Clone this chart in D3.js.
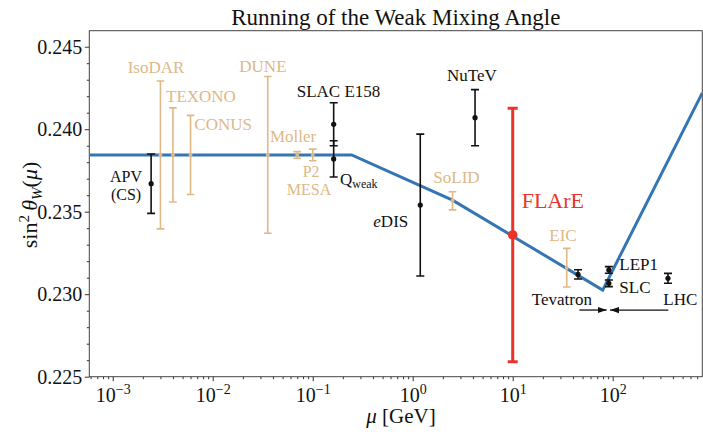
<!DOCTYPE html>
<html><head><meta charset="utf-8">
<script src="https://cdn.jsdelivr.net/npm/d3@7"></script>
<style>
body{margin:0;background:#fff;}
text{font-family:"Liberation Serif","Times New Roman",serif;}
</style></head>
<body><svg id="c" width="703" height="432"></svg>
<script>
// ---------- data ----------
const runMu = [5.83e-4, 0.245, 2.5, 79.4, 787];
const runS2 = [0.23844, 0.23844, 0.2357, 0.23025, 0.2422];

const measNames = ["APV", "SLAC E158", "Qweak", "eDIS", "NuTeV", "Tevatron", "LEP1", "SLC", "LHC"];
const measMu    = [0.00242, 0.162, 0.162, 1.19, 4.2, 45, 91.5, 91.5, 357];
const measVal   = [0.2367, 0.2403, 0.2382, 0.2354, 0.2407, 0.2312, 0.23147, 0.23066, 0.23096];
const measErr   = [0.0018, 0.0013, 0.0011, 0.0043, 0.0017, 0.00028, 0.0002, 0.0002, 0.0003];

const projNames = ["IsoDAR", "TEXONO", "CONUS", "DUNE", "Moller", "P2", "SoLID", "EIC"];
const projMu    = [0.003, 0.004, 0.006, 0.0355, 0.07, 0.1, 2.5, 34.7];
const projVal   = [0.23844, 0.23844, 0.23844, 0.23844, 0.23844, 0.23844, 0.23566, 0.23161];
const projErr   = [0.00448, 0.00285, 0.0024, 0.00475, 0.0002, 0.00035, 0.00055, 0.00117];

const flareMu = [10];
const flareVal = [0.23359];
const flareErr = [0.00768];

const xTickExp = [-3, -2, -1, 0, 1, 2];
const yTicks = [0.225, 0.230, 0.235, 0.240, 0.245];

// label anchors in data coordinates (like plt.text)
const labText = ["IsoDAR","TEXONO","CONUS","DUNE","Moller","P2","MESA","SoLID","EIC",
                 "SLAC E158","eDIS","NuTeV","Tevatron","LEP1","SLC","LHC"];
const labMu   = [0.00141,0.00341,0.00655,0.01845,0.0374,0.0794,0.055,1.607,23.2,
                 0.0692,0.4036,2.203,15.5,116.4,116.4,320.6];
const labVal  = [0.24342,0.24167,0.23995,0.24348,0.23921,0.23710,0.23601,0.23672,0.23324,
                 0.24193,0.23405,0.24292,0.22935,0.23147,0.23009,0.22935];
const labKind = ["p","p","p","p","p","p","p","p","p","m","m","m","m","m","m","m"];

// arrows (Tevatron, LHC)
const arrFrom = [46.4, 359.7];
const arrTo   = [87.1, 94];
const arrVal  = [0.22904, 0.22904];

// ---------- drawing ----------
const FONT = '"Liberation Serif","Times New Roman",serif';
const TAN = "#deb887", BLUE = "#3575b3", RED = "#e9342b", BLK = "#111";
const svg = d3.select("#c");
const L = 89.3, R = 702.3, T = 30.7, B = 376.7;
const x = d3.scaleLog().domain([5.83e-4, 787]).range([L, R]);
const y = d3.scaleLinear().domain([0.225, 0.24597]).range([B, T]);

const defs = svg.append("defs");
defs.append("clipPath").attr("id","clip").append("rect")
  .attr("x",L).attr("y",T).attr("width",R-L).attr("height",B-T);
defs.append("marker").attr("id","ah").attr("viewBox","0 0 10 10").attr("refX",10).attr("refY",5)
  .attr("markerWidth",9).attr("markerHeight",9).attr("markerUnits","userSpaceOnUse").attr("orient","auto")
  .append("path").attr("d","M0,1.5L10,5L0,8.5Z").attr("fill",BLK);

function txt(sel){ return sel.append("text").attr("font-family",FONT).style("font-family",FONT); }

// title
txt(svg).attr("x",(L+R)/2).attr("y",25).attr("text-anchor","middle")
  .attr("font-size",23).attr("fill","#111").text("Running of the Weak Mixing Angle");

// axes
const xMajor = xTickExp.map(e => Math.pow(10,e));
const xMinor = [];
for (let e=-4;e<=2;e++) for (let m=2;m<=9;m++){const v=m*Math.pow(10,e); if(v>=x.domain()[0]&&v<=x.domain()[1]) xMinor.push(v);}
const yMinor = d3.range(0.225,0.2459,0.001).filter(v=>!yTicks.some(t=>Math.abs(t-v)<1e-6));

const gx = svg.append("g").attr("transform",`translate(0,${B})`);
gx.call(d3.axisBottom(x).tickValues(xMinor).tickSize(2.5).tickFormat(""));
gx.call(g=>g.selectAll(".domain").remove());
const gx2 = svg.append("g").attr("transform",`translate(0,${B})`)
  .call(d3.axisBottom(x).tickValues(xMajor).tickSize(4.5).tickFormat(""));
gx2.select(".domain").remove();
gx2.selectAll(".tick").each(function(d,i){
  const t = txt(d3.select(this)).attr("y",25).attr("text-anchor","middle")
    .attr("font-size",20).attr("fill","#111");
  t.append("tspan").text("10");
  t.append("tspan").attr("dy",-8).attr("font-size",14).text(xTickExp[i]<0?"−"+(-xTickExp[i]):String(xTickExp[i]));
});

const gy = svg.append("g").attr("transform",`translate(${L},0)`);
gy.call(d3.axisLeft(y).tickValues(yMinor).tickSize(2.5).tickFormat(""));
gy.select(".domain").remove();
const gy2 = svg.append("g").attr("transform",`translate(${L},0)`)
  .call(d3.axisLeft(y).tickValues(yTicks).tickSize(4.5).tickFormat(d3.format(".3f")));
gy2.select(".domain").remove();
gy2.selectAll("text").attr("font-size",20).attr("fill","#111").attr("x",-7)
  .attr("font-family",FONT).style("font-family",FONT);
svg.selectAll(".tick line").attr("stroke","#333");

svg.append("rect").attr("x",L).attr("y",T).attr("width",R-L).attr("height",B-T)
  .attr("fill","none").attr("stroke","#444").attr("stroke-width",1);

// axis labels
const yl = txt(svg).attr("transform",`translate(37,205) rotate(-90)`)
  .attr("text-anchor","middle").attr("font-size",22).attr("fill","#111");
yl.append("tspan").text("sin");
yl.append("tspan").attr("dy",-8).attr("font-size",15).text("2");
yl.append("tspan").attr("dy",8).attr("font-style","italic").text("\u2009θ");
yl.append("tspan").attr("dy",5).attr("font-size",15).attr("font-style","italic").text("W");
yl.append("tspan").attr("dy",-5).text("(");
yl.append("tspan").attr("font-style","italic").text("μ");
yl.append("tspan").text(")");

const xl = txt(svg).attr("x",401).attr("y",423).attr("text-anchor","middle")
  .attr("font-size",21).attr("fill","#111");
xl.append("tspan").attr("font-style","italic").text("μ");
xl.append("tspan").text(" [GeV]");

// running curve
const plot = svg.append("g").attr("clip-path","url(#clip)");
const line = d3.line().x(d=>x(d[0])).y(d=>y(d[1]));
plot.append("path").datum(runMu.map((m,i)=>[m,runS2[i]])).attr("d",line)
  .attr("fill","none").attr("stroke",BLUE).attr("stroke-width",3);

function errbars(mu, val, err, color, lw, cap, r){
  const g = plot.append("g");
  mu.forEach((m,i)=>{
    const cx = x(m);
    g.append("line").attr("x1",cx).attr("x2",cx).attr("y1",y(val[i]-err[i])).attr("y2",y(val[i]+err[i]))
      .attr("stroke",color).attr("stroke-width",lw);
    [val[i]-err[i], val[i]+err[i]].forEach(v=>{
      g.append("line").attr("x1",cx-cap).attr("x2",cx+cap).attr("y1",y(v)).attr("y2",y(v))
        .attr("stroke",color).attr("stroke-width",lw);
    });
    g.append("circle").attr("cx",cx).attr("cy",y(val[i])).attr("r",r).attr("fill",color);
  });
}
errbars(projMu, projVal, projErr, TAN, 1.6, 3.8, 2);
errbars(measMu, measVal, measErr, BLK, 1.6, 4, 2.6);
errbars(flareMu, flareVal, flareErr, RED, 3, 5, 4.8);

// labels
labText.forEach((t,i)=>{
  const s = txt(svg).attr("x",x(labMu[i])).attr("y",y(labVal[i]))
    .attr("font-size",(t==="P2"||t==="MESA")?16:17)
    .attr("fill",labKind[i]==="p"?TAN:"#111");
  if (t==="eDIS"){ s.append("tspan").attr("font-style","italic").text("e"); s.append("tspan").text("DIS"); }
  else s.text(t);
});
// APV (CS)
txt(svg).attr("x",x(0.00136)).attr("y",y(0.23680)).attr("text-anchor","middle")
  .attr("font-size",16).attr("fill","#111").text("APV");
txt(svg).attr("x",x(0.00136)).attr("y",y(0.23571)).attr("text-anchor","middle")
  .attr("font-size",16).attr("fill","#111").text("(CS)");
// Q_weak
const q = txt(svg).attr("x",x(0.1875)).attr("y",y(0.23662)).attr("font-size",17).attr("fill","#111");
q.append("tspan").text("Q");
q.append("tspan").attr("dy",3).attr("font-size",12).text("weak");
// FLArE
txt(svg).attr("x",x(12.3)).attr("y",y(0.23521)).attr("font-size",22).attr("fill",RED).text("FLArE");

// arrows
arrFrom.forEach((f,i)=>{
  svg.append("line").attr("x1",x(f)).attr("x2",x(arrTo[i])).attr("y1",y(arrVal[i])).attr("y2",y(arrVal[i]))
    .attr("stroke",BLK).attr("stroke-width",1.3).attr("marker-end","url(#ah)");
});
</script></body></html>
